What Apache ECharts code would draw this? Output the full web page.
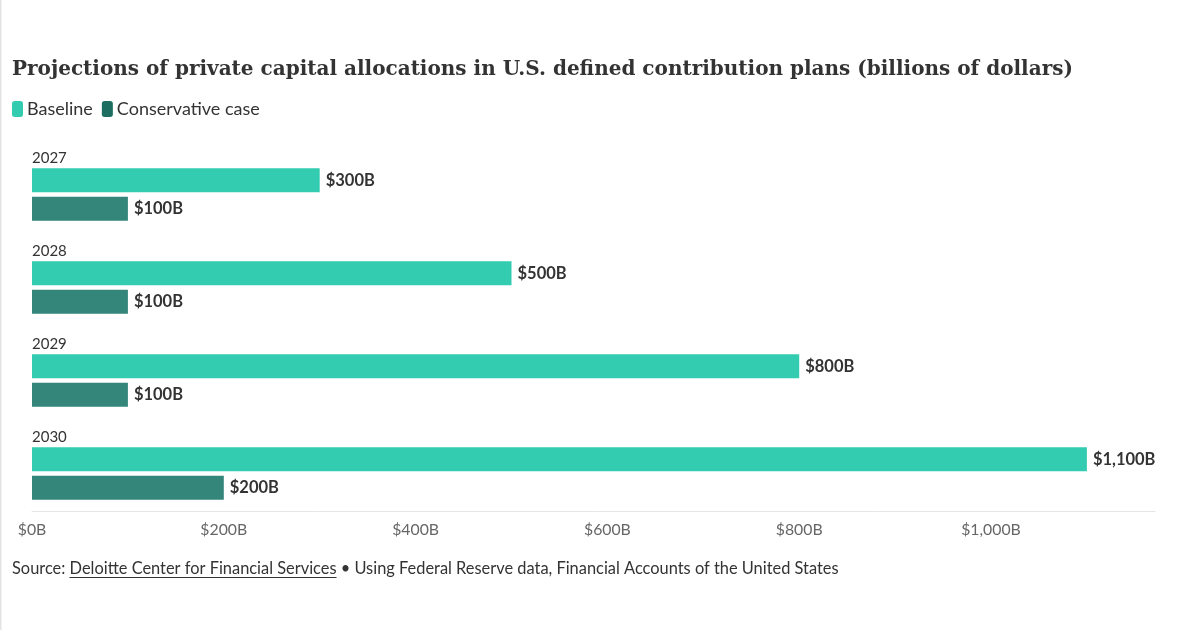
<!DOCTYPE html>
<html>
<head>
<meta charset="utf-8">
<script src="https://cdn.jsdelivr.net/npm/echarts@6/dist/echarts.min.js"></script>
<style>
html,body{margin:0;padding:0;background:#fff;}
#c{width:1200px;height:630px;}
</style>
</head>
<body>
<div id="c"></div>
<script>
const years = ['2027', '2028', '2029', '2030'];
const baseline = [300, 500, 800, 1100];
const conservative = [100, 100, 100, 200];
const xTicks = [0, 200, 400, 600, 800, 1000];
const sourcePrefix = 'Source: ';
const sourceLink = 'Deloitte Center for Financial Services';
const sourceRest = ' \u2022 Using Federal Reserve data, Financial Accounts of the United States';

const chart = echarts.init(document.getElementById('c'));
const fmt = v => '$' + v.toLocaleString('en-US') + 'B';
const labelStyle = {
  show: true, position: 'right', distance: 6,
  fontFamily: 'Lato', fontWeight: 'bold', fontSize: 16.5, color: '#333',
  formatter: p => fmt(p.value)
};

const footFont = '16.4px Lato';
const cv = document.createElement('canvas').getContext('2d');
cv.font = footFont;
const footX = 12;
const ulX1 = footX + cv.measureText(sourcePrefix).width;
const ulX2 = ulX1 + cv.measureText(sourceLink).width;

chart.setOption({
  backgroundColor: '#fff',
  animation: false,
  title: {
    text: 'Projections of private capital allocations in U.S. defined contribution plans (billions of dollars)',
    left: 12, top: 60, padding: 0,
    textStyle: { fontFamily: 'DejaVu Serif', fontWeight: 'bold', fontSize: 20, color: '#333' }
  },
  legend: {
    left: 12, top: 100, padding: 0,
    itemWidth: 11, itemHeight: 16, itemGap: 9,
    icon: 'roundRect',
    textStyle: { fontFamily: 'Lato', fontSize: 18, color: '#333', padding: [0, 0, 0, -1] },
    data: [
      { name: 'Baseline', itemStyle: { color: '#33ccb0' } },
      { name: 'Conservative case', itemStyle: { color: '#1d6e60' } }
    ]
  },
  grid: { left: 32, right: 45, top: 148, bottom: 110 },
  xAxis: {
    type: 'value', min: 0, max: 1171, interval: 200, offset: -9,
    axisLine: { show: true, lineStyle: { color: '#e6e6e6' } },
    axisTick: { show: false },
    splitLine: { show: false },
    axisLabel: {
      fontFamily: 'Lato', fontSize: 15.8, color: '#666', margin: 11,
      formatter: v => xTicks.includes(v) ? fmt(v) : ''
    }
  },
  yAxis: {
    type: 'category', data: years, inverse: true,
    axisLine: { show: false }, axisTick: { show: false },
    axisLabel: {
      inside: true, margin: 0, align: 'left', verticalAlign: 'bottom',
      padding: [0, 0, 29, 0],
      fontFamily: 'Lato', fontSize: 15, color: '#333'
    }
  },
  series: [
    { name: 'Baseline', type: 'bar', data: baseline, barWidth: 24, barGap: '18%',
      itemStyle: { color: '#33ccb0' }, label: labelStyle },
    { name: 'Conservative case', type: 'bar', data: conservative, barWidth: 24,
      itemStyle: { color: '#338679' }, label: labelStyle }
  ],
  graphic: [
    { type: 'rect', shape: { x: 0, y: 0, width: 1.5, height: 630 }, style: { fill: '#e3e3e3' } },
    { type: 'text', x: footX, y: 569,
      style: { text: sourcePrefix + sourceLink + sourceRest, font: footFont, fill: '#333', verticalAlign: 'middle' } },
    { type: 'line', shape: { x1: ulX1, y1: 577.5, x2: ulX2, y2: 577.5 }, style: { stroke: '#333', lineWidth: 1 } }
  ]
});
</script>
</body>
</html>
